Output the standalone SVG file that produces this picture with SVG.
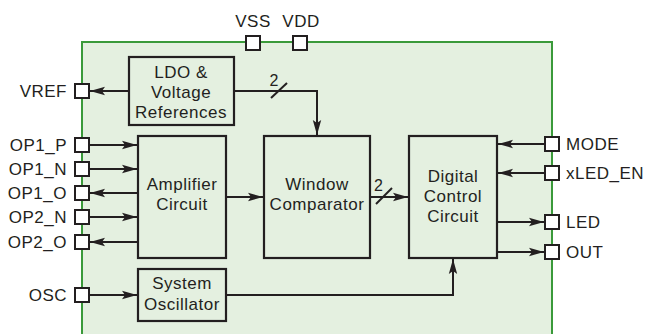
<svg xmlns="http://www.w3.org/2000/svg" width="646" height="334" viewBox="0 0 646 334">
<style>
text{font-family:"Liberation Sans",Arial,sans-serif;font-size:17px;letter-spacing:0.5px;fill:#231f20}
.blk{fill:none;stroke:#231f20;stroke-width:2.2}
.pin{fill:#fff;stroke:#231f20;stroke-width:2}
.w{stroke:#231f20;stroke-width:2;fill:none}
.m{text-anchor:middle}
.e{text-anchor:end}
.n{font-size:16px;letter-spacing:0}
</style>
<defs>
<marker id="a" markerUnits="userSpaceOnUse" markerWidth="16" markerHeight="10" refX="15" refY="5" orient="auto">
<path d="M0,0.8 L15,5 L0,9.2 L3,5 Z" fill="#231f20"/>
</marker>
</defs>
<rect x="82" y="42" width="470" height="300" fill="#e4f0e0" stroke="#3a9a3a" stroke-width="2"/>
<g id="connectors">
<path class="w" d="M129,91 H90" marker-end="url(#a)"/>
<path class="w" d="M234,91 H317 V135" marker-end="url(#a)"/>
<path class="w" d="M271,98 L287,83"/>
<text x="274" y="86" class="m n">2</text>
<path class="w" d="M90,145 H137" marker-end="url(#a)"/>
<path class="w" d="M90,169 H137" marker-end="url(#a)"/>
<path class="w" d="M138,193 H90" marker-end="url(#a)"/>
<path class="w" d="M90,217 H137" marker-end="url(#a)"/>
<path class="w" d="M138,242 H90" marker-end="url(#a)"/>
<path class="w" d="M226,197 H263" marker-end="url(#a)"/>
<path class="w" d="M370,197 H408" marker-end="url(#a)"/>
<path class="w" d="M376,204 L392,188"/>
<text x="378.5" y="191" class="m n">2</text>
<path class="w" d="M545,144 H498" marker-end="url(#a)"/>
<path class="w" d="M545,173 H498" marker-end="url(#a)"/>
<path class="w" d="M497,222 H544" marker-end="url(#a)"/>
<path class="w" d="M497,252 H544" marker-end="url(#a)"/>
<path class="w" d="M90,295 H137" marker-end="url(#a)"/>
<path class="w" d="M226,295 H453 V259" marker-end="url(#a)"/>
</g>
<g id="ldo"><rect class="blk" x="129" y="57" width="105" height="68"/>
<text x="181" y="78" class="m">LDO &amp;</text><text x="181" y="98" class="m">Voltage</text><text x="181" y="118" class="m">References</text></g>
<g id="amp"><rect class="blk" x="138" y="136" width="88" height="122"/>
<text x="182" y="190" class="m">Amplifier</text><text x="182" y="210" class="m">Circuit</text></g>
<g id="win"><rect class="blk" x="264" y="136" width="106" height="122"/>
<text x="317" y="190" class="m">Window</text><text x="317" y="210" class="m">Comparator</text></g>
<g id="dig"><rect class="blk" x="409" y="136" width="88" height="122"/>
<text x="453" y="182" class="m">Digital</text><text x="453" y="202" class="m">Control</text><text x="453" y="222" class="m">Circuit</text></g>
<g id="osc"><rect class="blk" x="138" y="269" width="88" height="52"/>
<text x="182" y="289" class="m">System</text><text x="182" y="310" class="m">Oscillator</text></g>
<g id="pin-vss"><rect class="pin" x="246" y="36" width="14" height="14"/><text x="253" y="27" class="m">VSS</text></g>
<g id="pin-vdd"><rect class="pin" x="293" y="36" width="14" height="14"/><text x="301" y="27" class="m">VDD</text></g>
<g id="pin-vref"><rect class="pin" x="75" y="84" width="14" height="14"/><text x="67" y="97" class="e">VREF</text></g>
<g id="pin-op1p"><rect class="pin" x="75" y="138" width="14" height="14"/><text x="67" y="151" class="e">OP1_P</text></g>
<g id="pin-op1n"><rect class="pin" x="75" y="162" width="14" height="14"/><text x="67" y="175" class="e">OP1_N</text></g>
<g id="pin-op1o"><rect class="pin" x="75" y="186" width="14" height="14"/><text x="67" y="199" class="e">OP1_O</text></g>
<g id="pin-op2n"><rect class="pin" x="75" y="210" width="14" height="14"/><text x="67" y="223" class="e">OP2_N</text></g>
<g id="pin-op2o"><rect class="pin" x="75" y="235" width="14" height="14"/><text x="67" y="248" class="e">OP2_O</text></g>
<g id="pin-osc"><rect class="pin" x="75" y="288" width="14" height="14"/><text x="67" y="301" class="e">OSC</text></g>
<g id="pin-mode"><rect class="pin" x="545" y="137" width="14" height="14"/><text x="566" y="150">MODE</text></g>
<g id="pin-xled"><rect class="pin" x="545" y="166" width="14" height="14"/><text x="566" y="179">xLED_EN</text></g>
<g id="pin-led"><rect class="pin" x="545" y="215" width="14" height="14"/><text x="566" y="228">LED</text></g>
<g id="pin-out"><rect class="pin" x="545" y="245" width="14" height="14"/><text x="566" y="258">OUT</text></g>
</svg>
